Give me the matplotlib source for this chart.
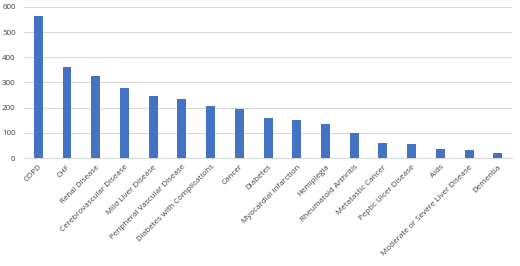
import matplotlib
matplotlib.use('Agg')
import matplotlib.pyplot as plt

categories = ["COPD", "CHF", "Renal Disease", "Cerebrovascular Disease",
              "Mild Liver Disease", "Peripheral Vascular Disease",
              "Diabetes with Complications", "Cancer", "Diabetes",
              "Myocardial Infarction", "Hemiplegia", "Rheumatoid Arthritis",
              "Metatastic Cancer", "Peptic Ulcer Disease", "Aids",
              "Moderate or Severe Liver Disease", "Dementia"]
counts = [564, 363, 326, 278, 247, 234, 206, 195, 159, 150, 135, 100,
          58, 56, 35, 31, 18]
yticks = [0, 100, 200, 300, 400, 500, 600]

fig = plt.figure(figsize=(5.2, 2.66), dpi=100)
ax = fig.add_axes([0.046, 0.406, 0.939, 0.568])

x = range(len(categories))
ax.bar(x, counts, width=0.31, color="#4472C4", zorder=3)

ax.set_xlim(-0.5, len(categories) - 0.5)
ax.set_ylim(0, 600)
ax.set_yticks(yticks)
ax.grid(axis="y", color="#D9D9D9", lw=0.8, zorder=0)
ax.set_xticks(list(x))
ax.set_xticklabels(categories, rotation=45, ha="right", rotation_mode="anchor",
                   fontsize=5.8, color="#404040", family="Open Sans")
for lbl in ax.get_yticklabels():
    lbl.set_fontsize(5.8)
    lbl.set_color("#404040")
    lbl.set_family("Open Sans")
ax.tick_params(length=0, pad=6)
ax.tick_params(axis="x", pad=4)
for s in ["top", "right", "left"]:
    ax.spines[s].set_visible(False)
ax.spines["bottom"].set_color("#D9D9D9")
ax.spines["bottom"].set_linewidth(0.8)

fig.savefig("out.png", dpi=100)
